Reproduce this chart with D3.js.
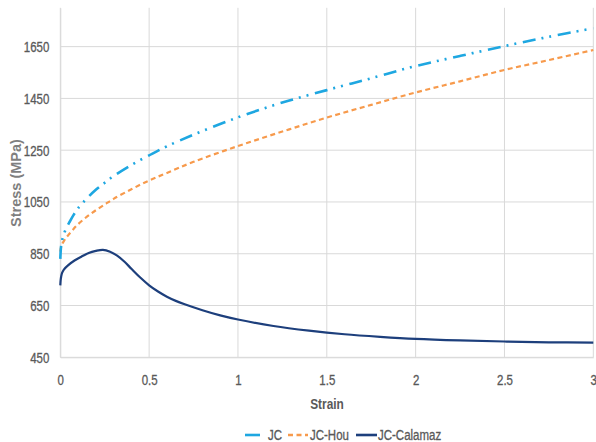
<!DOCTYPE html>
<html>
<head>
<meta charset="utf-8">
<script src="https://cdn.jsdelivr.net/npm/d3@7"></script>
<style>
  html, body { margin: 0; padding: 0; background: #fff; }
  svg { display: block; }
  text { font-family: "Liberation Sans", Arial, sans-serif; }
</style>
</head>
<body>
<svg id="chart" width="596" height="442"></svg>
<script>
// ---- data ----
const seriesNames = ["JC", "JC-Hou", "JC-Calamaz"];

const jcStrain = [0, 0.002, 0.005, 0.01, 0.02, 0.035, 0.05, 0.075, 0.1, 0.15, 0.2, 0.25, 0.3, 0.4, 0.5, 0.6, 0.75, 1, 1.25, 1.5, 1.75, 2, 2.25, 2.5, 2.75, 3];
const jcStress = [830, 858, 882, 901, 926, 951, 970, 1000, 1026, 1064, 1097, 1124, 1150, 1193, 1230, 1265, 1310, 1377, 1434, 1482, 1528, 1575, 1614, 1652, 1688, 1721];

const houStrain = [0, 0.002, 0.005, 0.01, 0.02, 0.035, 0.05, 0.075, 0.1, 0.15, 0.2, 0.25, 0.3, 0.4, 0.5, 0.6, 0.75, 1, 1.25, 1.5, 1.75, 2, 2.25, 2.5, 2.75, 3];
const houStress = [858, 868, 877, 887, 899, 914, 926, 946, 964, 993, 1018, 1040, 1062, 1099, 1133, 1162, 1205, 1266, 1322, 1376, 1425, 1473, 1516, 1560, 1598, 1637];

const calStrain = [0, 0.002, 0.005, 0.01, 0.02, 0.045, 0.08, 0.12, 0.16, 0.2, 0.24, 0.28, 0.32, 0.36, 0.4, 0.45, 0.5, 0.55, 0.6, 0.65, 0.7, 0.8, 0.9, 1, 1.2, 1.4, 1.6, 1.8, 2, 2.25, 2.5, 2.75, 3];
const calStress = [728, 748, 762, 776, 789, 806, 824, 839, 853, 861, 865, 858, 843, 820, 792, 758, 728, 704, 684, 668, 655, 632, 612, 596, 571, 553, 539, 529, 521, 515, 511, 508, 507];

const xTicks = [0, 0.5, 1, 1.5, 2, 2.5, 3];
const yTicks = [450, 650, 850, 1050, 1250, 1450, 1650];
const xDomain = [0, 3];
const yDomain = [450, 1800];

// ---- drawing ----
const svg = d3.select("#chart");
const x = d3.scaleLinear().domain(xDomain).range([60.3, 593.3]);
const y = d3.scaleLinear().domain(yDomain).range([357.3, 7.8]);

const gridColor = "#d9d9d9";
const textColor = "#595959";
const squeeze = 0.82;

// condense a text horizontally around its anchor point
function condense(sel) {
  sel.each(function () {
    const t = d3.select(this);
    const tx = +t.attr("x") || 0, ty = +t.attr("y") || 0;
    t.attr("x", 0).attr("y", 0)
     .attr("transform", `translate(${tx},${ty}) scale(${squeeze},1)`);
  });
}

// horizontal gridlines
svg.append("g").selectAll("line").data(yTicks).join("line")
  .attr("x1", x(0)).attr("x2", x(3))
  .attr("y1", d => y(d)).attr("y2", d => y(d))
  .attr("stroke", gridColor).attr("stroke-width", 1);

// vertical gridlines
svg.append("g").selectAll("line").data(xTicks).join("line")
  .attr("x1", d => x(d)).attr("x2", d => x(d))
  .attr("y1", y(yDomain[1])).attr("y2", y(yDomain[0]))
  .attr("stroke", gridColor).attr("stroke-width", 1);

// axes (labels only)
const xAxis = d3.axisBottom(x).tickValues(xTicks).tickSize(0).tickPadding(0).tickFormat(d3.format("~g"));
const gx = svg.append("g").attr("transform", `translate(0,${y(450)})`).call(xAxis);
gx.attr("font-family", null).attr("font-size", null);
gx.select(".domain").attr("stroke", gridColor);
gx.selectAll("text").attr("font-size", 14).attr("fill", textColor)
  .attr("stroke", textColor).attr("stroke-width", 0.3)
  .attr("dy", null).attr("y", 28).call(condense);

const yAxis = d3.axisLeft(y).tickValues(yTicks).tickSize(0).tickPadding(0).tickFormat(d3.format("d"));
const gy = svg.append("g").attr("transform", `translate(${x(0)},0)`).call(yAxis);
gy.attr("font-family", null).attr("font-size", null);
gy.select(".domain").attr("stroke", gridColor);
gy.selectAll("text").attr("font-size", 14).attr("fill", textColor)
  .attr("stroke", textColor).attr("stroke-width", 0.3)
  .attr("x", -11).attr("dy", null).attr("y", 5).call(condense);

// axis titles
svg.append("text")
  .attr("x", 327).attr("y", 409)
  .attr("text-anchor", "middle").attr("font-size", 14.5).attr("font-weight", "bold")
  .attr("fill", textColor).text("Strain").call(condense);

svg.append("text")
  .attr("transform", "translate(21,183) rotate(-90)")
  .attr("text-anchor", "middle")
  .attr("font-size", 14.5).attr("font-weight", "bold")
  .attr("fill", "#7f7f7f").text("Stress (MPa)");

// series
const styles = [
  { color: "#1ea7e1", width: 2.6, dash: "13,6,2,6,2,6.7" },
  { color: "#f79a4c", width: 2.2, dash: "5,3.5" },
  { color: "#1d3f7c", width: 2.2, dash: null }
];
const seriesData = [
  d3.zip(jcStrain, jcStress),
  d3.zip(houStrain, houStress),
  d3.zip(calStrain, calStress)
];
const line = d3.line().x(d => x(d[0])).y(d => y(d[1])).curve(d3.curveCatmullRom.alpha(0.5));

[2, 1, 0].forEach(i => {
  svg.append("path").datum(seriesData[i])
    .attr("d", line)
    .attr("fill", "none")
    .attr("stroke", styles[i].color)
    .attr("stroke-width", styles[i].width)
    .attr("stroke-dasharray", styles[i].dash);
});

// legend
const legendItems = [
  { x1: 245, x2: 260, tx: 268 },
  { x1: 288, x2: 308, tx: 310 },
  { x1: 356, x2: 377, tx: 378 }
];
seriesNames.forEach((name, i) => {
  const it = legendItems[i];
  svg.append("line")
    .attr("x1", it.x1).attr("x2", it.x2).attr("y1", 435).attr("y2", 435)
    .attr("stroke", styles[i].color).attr("stroke-width", 2.6)
    .attr("stroke-dasharray", i === 1 ? "5,3.5" : null);
  svg.append("text")
    .attr("x", it.tx).attr("y", 439.5)
    .attr("font-size", 14).attr("fill", textColor)
    .attr("stroke", textColor).attr("stroke-width", 0.3)
    .text(name).call(condense);
});
</script>
</body>
</html>
